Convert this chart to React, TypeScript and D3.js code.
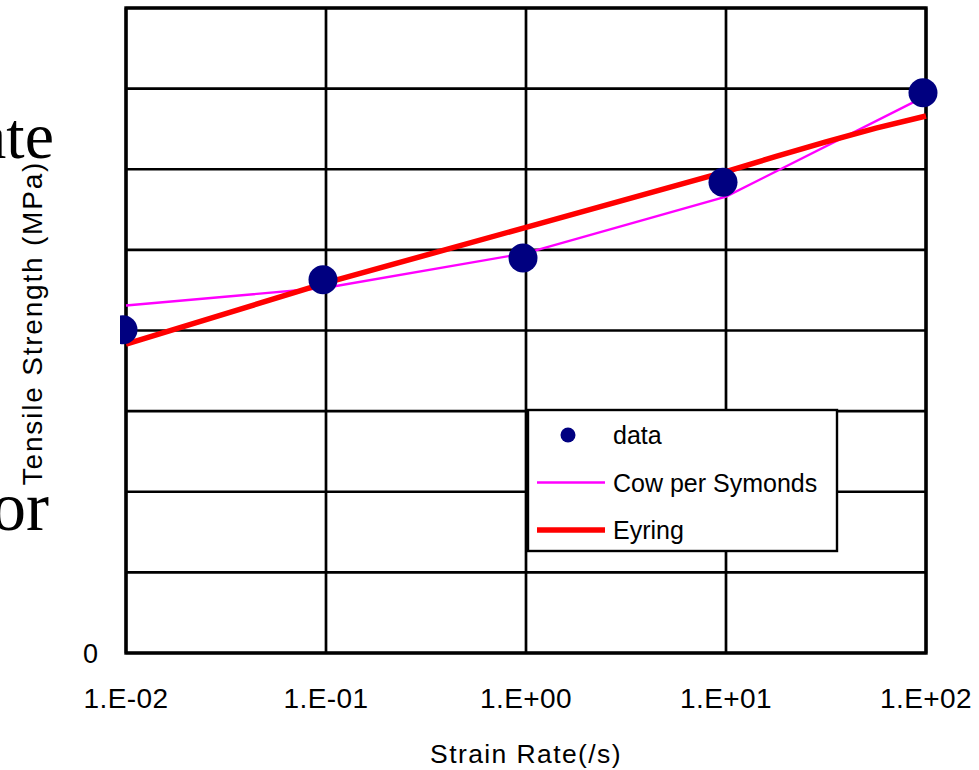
import React, { useEffect, useRef } from 'react';
import * as d3 from 'd3';

// strain rates (1/s) at each decade
const rates = [0.01, 0.1, 1, 10, 100];
const dataValues = [40.1, 46.3, 49.0, 58.4, 69.5];
// Cowper Symonds fit at the same rates
const cowperValues = [43.1, 45.3, 49.6, 56.6, 69.1];
// Eyring fit, sampled a bit finer near the top
const eyringRates = [0.01, 0.1, 1, 10, 17.8, 31.6, 56.2, 100];
const eyringValues = [38.3, 45.9, 52.8, 59.7, 61.6, 63.4, 65.1, 66.6];
const xTickLabels = ['1.E-02', '1.E-01', '1.E+00', '1.E+01', '1.E+02'];
const legendItems = ['data', 'Cow per Symonds', 'Eyring'];

const W = 979;
const H = 770;

export default function App() {
  const svgRef = useRef<SVGSVGElement>(null);

  useEffect(() => {
    if (!svgRef.current) return;
    const svg = d3.select(svgRef.current);
    svg.selectAll('*').remove();

    const font = '"Liberation Sans", Arial, sans-serif';
    const x = d3.scaleLog().domain([0.01, 100]).range([126, 926]);
    const y = d3.scaleLinear().domain([0, 80]).range([653, 8]);

    svg.append('defs')
      .append('clipPath')
      .attr('id', 'dot-clip')
      .append('rect')
      .attr('x', 120).attr('y', 0).attr('width', W - 120).attr('height', H);

    // background slide text, cut at the left edge like in the source
    svg.append('text')
      .attr('x', 54).attr('y', 158)
      .attr('text-anchor', 'end')
      .style('font-family', '"Liberation Serif", "Times New Roman", serif')
      .style('font-size', '66px')
      .text('ate');
    svg.append('text')
      .attr('x', 49).attr('y', 530)
      .attr('text-anchor', 'end')
      .style('font-family', '"Liberation Serif", "Times New Roman", serif')
      .style('font-size', '69px')
      .text('or');

    // grid
    const grid = svg.append('g');
    grid.selectAll('line.h')
      .data(y.ticks(8))
      .enter().append('line')
      .attr('x1', x(0.01)).attr('x2', x(100))
      .attr('y1', d => y(d)).attr('y2', d => y(d))
      .attr('stroke', '#000').attr('stroke-width', 2.7);
    grid.selectAll('line.v')
      .data(rates)
      .enter().append('line')
      .attr('x1', d => x(d)).attr('x2', d => x(d))
      .attr('y1', y(0)).attr('y2', y(80))
      .attr('stroke', '#000').attr('stroke-width', 2.7);

    // frame
    svg.append('rect')
      .attr('x', x(0.01)).attr('y', y(80))
      .attr('width', x(100) - x(0.01)).attr('height', y(0) - y(80))
      .attr('fill', 'none').attr('stroke', '#000').attr('stroke-width', 3.4);

    // tick labels
    svg.selectAll('text.xt')
      .data(rates)
      .enter().append('text')
      .attr('x', d => x(d)).attr('y', 708)
      .attr('text-anchor', 'middle')
      .style('font-family', font).style('font-size', '28px')
      .style('letter-spacing', '0.4px')
      .text((_, i) => xTickLabels[i]);
    svg.append('text')
      .attr('x', 98).attr('y', y(0) + 10)
      .attr('text-anchor', 'end')
      .style('font-family', font).style('font-size', '27px')
      .text('0');

    // axis titles
    svg.append('text')
      .attr('x', 526).attr('y', 763)
      .attr('text-anchor', 'middle')
      .style('font-family', font).style('font-size', '26.5px')
      .style('letter-spacing', '1.4px')
      .text('Strain Rate(/s)');
    svg.append('text')
      .attr('transform', 'translate(42,323) rotate(-90)')
      .attr('text-anchor', 'middle')
      .style('font-family', font).style('font-size', '28px')
      .style('letter-spacing', '1.8px')
      .text('Tensile Strength (MPa)');

    // fit lines
    const line = d3.line<[number, number]>().x(d => x(d[0])).y(d => y(d[1]));
    svg.append('path')
      .attr('d', line(rates.map((r, i) => [r, cowperValues[i]]))!)
      .attr('fill', 'none').attr('stroke', '#ff00ff').attr('stroke-width', 2.4);
    svg.append('path')
      .attr('d', line(eyringRates.map((r, i) => [r, eyringValues[i]]))!)
      .attr('fill', 'none').attr('stroke', '#ff0000').attr('stroke-width', 5.5);

    // data markers
    svg.append('g')
      .attr('clip-path', 'url(#dot-clip)')
      .selectAll('circle')
      .data(rates)
      .enter().append('circle')
      .attr('cx', d => x(d) - 3)
      .attr('cy', (_, i) => y(dataValues[i]))
      .attr('r', 14.5)
      .attr('fill', '#000080');

    // legend
    const lg = svg.append('g').attr('transform', 'translate(528,410)');
    lg.append('rect')
      .attr('width', 309).attr('height', 141)
      .attr('fill', '#fff').attr('stroke', '#000').attr('stroke-width', 2.4);
    const rowY = (i: number) => 25 + i * 47.5;
    lg.append('circle').attr('cx', 40).attr('cy', rowY(0)).attr('r', 7.5).attr('fill', '#000080');
    lg.append('line').attr('x1', 9).attr('x2', 77).attr('y1', rowY(1)).attr('y2', rowY(1))
      .attr('stroke', '#ff00ff').attr('stroke-width', 2.4);
    lg.append('line').attr('x1', 9).attr('x2', 77).attr('y1', rowY(2)).attr('y2', rowY(2))
      .attr('stroke', '#ff0000').attr('stroke-width', 5.5);
    lg.selectAll('text')
      .data(legendItems)
      .enter().append('text')
      .attr('x', 85).attr('y', (_, i) => rowY(i) + 9)
      .style('font-family', font).style('font-size', '25px')
      .text(d => d);
  }, []);

  return (
    <svg
      ref={svgRef}
      width={W}
      height={H}
      style={{ position: 'absolute', left: 0, top: 0, background: '#fff' }}
    />
  );
}
